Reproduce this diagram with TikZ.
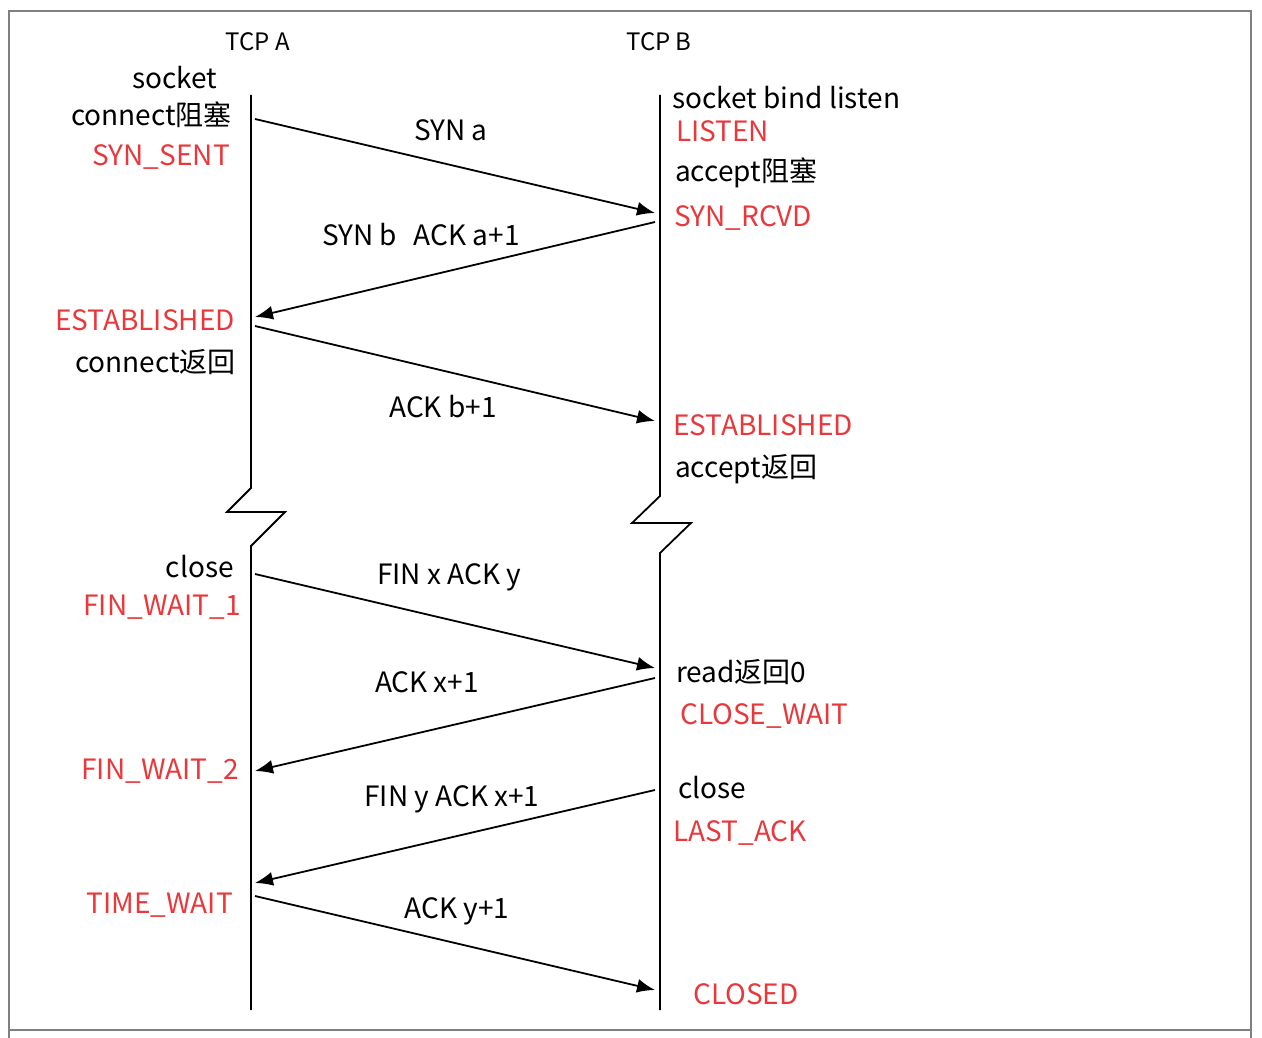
\documentclass[tikz,border=0pt]{standalone}
\usepackage{fontspec}
\setmainfont{Noto Sans CJK SC}
\usetikzlibrary{arrows.meta}

\definecolor{statered}{RGB}{232,56,60}
\tikzset{
    lbl/.style={inner sep=0pt, font=\fontsize{28}{32}\selectfont},
    state/.style={lbl, text=statered},
    head/.style={inner sep=0pt, font=\fontsize{24}{28}\selectfont},
    lifeline/.style={line width=1.8pt},
    msg/.style={line width=1.8pt, -{Latex[length=18pt,width=14pt]}},
}

\begin{document}
\begin{tikzpicture}[x=1pt, y=-1pt]
    \useasboundingbox (0,0) rectangle (1262,1038);
    % frame
    \draw[gray, line width=1.2pt] (9,1038) -- (9,11) -- (1251,11) -- (1251,1038);
    \draw[gray, line width=1.2pt] (9,1030) -- (1251,1030);

    % lifelines with break marks
    \draw[lifeline] (251,95) -- (251,488) -- (227,512) -- (285,512) -- (251,546) -- (251,1010);
    \draw[lifeline] (660,95) -- (660,496) -- (632,523) -- (691,523) -- (660,553) -- (660,1010);

    % headers
    \node[head] (tcpa) at (258,42) {TCP A};
    \node[head] (tcpb) at (659,42) {TCP B};

    % ends of messages on the lifelines
    \coordinate (a1) at (255,119);  \coordinate (b1) at (655,213);
    \coordinate (b2) at (655,222);  \coordinate (a2) at (255,317);
    \coordinate (a3) at (255,326);  \coordinate (b3) at (655,421);
    \coordinate (a4) at (255,574);  \coordinate (b4) at (655,668);
    \coordinate (b5) at (655,678);  \coordinate (a5) at (255,771);
    \coordinate (b6) at (655,790);  \coordinate (a6) at (255,883);
    \coordinate (a7) at (255,896);  \coordinate (b7) at (655,990);

    \draw[msg] (a1) -- (b1);
    \draw[msg] (b2) -- (a2);
    \draw[msg] (a3) -- (b3);
    \draw[msg] (a4) -- (b4);
    \draw[msg] (b5) -- (a5);
    \draw[msg] (b6) -- (a6);
    \draw[msg] (a7) -- (b7);

    % message labels
    \node[lbl] (syna) at (451,130) {SYN a};
    \node[lbl] (synack) at (421,235) {SYN b\hspace{0.6em}ACK a+1};
    \node[lbl] (ackb) at (443,407) {ACK b+1};
    \node[lbl] (finx) at (449,577) {FIN x ACK y};
    \node[lbl] (ackx) at (427,682) {ACK x+1};
    \node[lbl] (finy) at (452,799) {FIN y ACK x+1};
    \node[lbl] (acky) at (457,911) {ACK y+1};

    % TCP A side
    \node[lbl] (socka) at (175,78) {socket};
    \node[lbl, anchor=east] (conn) at (232,115) {connect阻塞};
    \node[state, anchor=east] (synsent) at (230,157) {SYN\_SENT};
    \node[state, anchor=east] (esta) at (235,320) {ESTABLISHED};
    \node[lbl, anchor=east] (connret) at (236,362) {connect返回};
    \node[lbl, anchor=east] (closea) at (234,567) {close};
    \node[state, anchor=east] (fin1) at (241,607) {FIN\_WAIT\_1};
    \node[state, anchor=east] (fin2) at (239,771) {FIN\_WAIT\_2};
    \node[state, anchor=east] (timew) at (233,905) {TIME\_WAIT};

    % TCP B side
    \node[lbl, anchor=west] (sockb) at (672,98) {socket bind listen};
    \node[state, anchor=west] (listen) at (676,131) {LISTEN};
    \node[lbl, anchor=west] (acc) at (675,173) {accept阻塞};
    \node[state, anchor=west] (synrcvd) at (674,218) {SYN\_RCVD};
    \node[state, anchor=west] (estb) at (673,425) {ESTABLISHED};
    \node[lbl, anchor=west] (accret) at (675,469) {accept返回};
    \node[lbl, anchor=west] (readret) at (676,672) {read返回0};
    \node[state, anchor=west] (closew) at (680,716) {CLOSE\_WAIT};
    \node[lbl, anchor=west] (closeb) at (678,788) {close};
    \node[state, anchor=west] (lastack) at (673,833) {LAST\_ACK};
    \node[state, anchor=west] (closed) at (693,994) {CLOSED};
\end{tikzpicture}
\end{document}
